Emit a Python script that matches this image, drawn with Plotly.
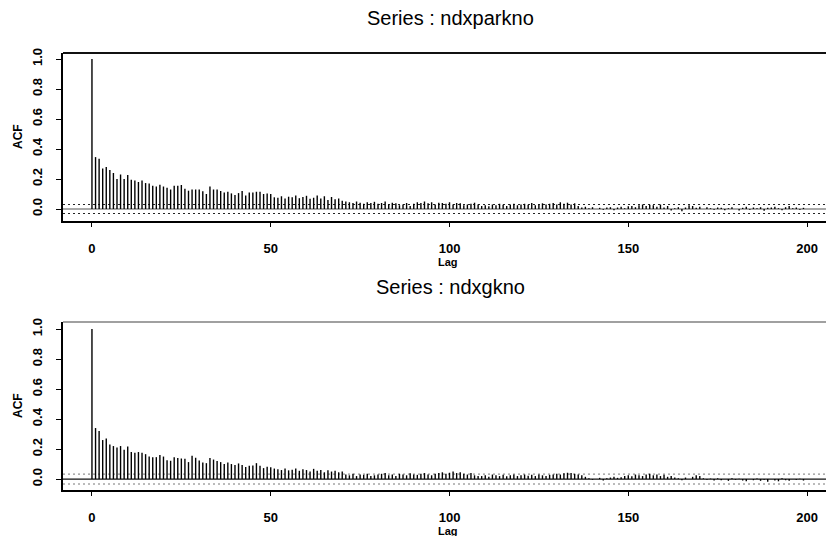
import plotly.graph_objects as go

# Sample autocorrelations, lag 0 upward
acf_ndxparkno = [
    1.0,
    0.346, 0.335, 0.27, 0.28, 0.26, 0.24, 0.20, 0.23, 0.20, 0.226,
    0.195, 0.19, 0.18, 0.19, 0.173, 0.17, 0.155, 0.15, 0.162, 0.15,
    0.142, 0.13, 0.155, 0.155, 0.16, 0.135, 0.122, 0.13, 0.13, 0.13,
    0.118, 0.10, 0.15, 0.13, 0.13, 0.12, 0.11, 0.115, 0.104, 0.093,
    0.106, 0.12, 0.09, 0.11, 0.11, 0.115, 0.115, 0.10, 0.104, 0.10,
    0.078, 0.075, 0.085, 0.07, 0.082, 0.078, 0.09, 0.072, 0.08, 0.088,
    0.068, 0.075, 0.09, 0.07, 0.085, 0.06, 0.08, 0.065, 0.07, 0.055,
    0.05, 0.045, 0.04, 0.05, 0.042, 0.035, 0.045, 0.04, 0.048, 0.035,
    0.04, 0.05, 0.03, 0.042, 0.038, 0.025, 0.03, 0.04, 0.02, 0.035,
    0.045, 0.04, 0.05, 0.038, 0.045, 0.03, 0.042, 0.04, 0.035, 0.045,
    0.03, 0.04, 0.038, 0.025, 0.03, 0.035, 0.042, 0.03, 0.02, 0.025,
    0.018, 0.03, 0.025, 0.035, 0.028, 0.02, 0.03, 0.035, 0.025, 0.03,
    0.035, 0.028, 0.04, 0.025, 0.03, 0.038, 0.03, 0.035, 0.04, 0.03,
    0.045, 0.035, 0.042, 0.03, 0.038, 0.02, 0.01, 0.015, 0.005, 0.012,
    0.0, 0.008, -0.005, 0.01, 0.012, -0.008, 0.01, 0.015, 0.005, 0.018,
    0.02, 0.012, 0.025, 0.03, 0.02, 0.028, 0.025, 0.015, 0.03, 0.01,
    0.02, -0.01, 0.005, 0.012, -0.015, 0.01, 0.025, 0.02, 0.008, 0.015,
    0.0, 0.012, 0.005, -0.005, 0.01, 0.008, -0.008, 0.005, 0.012, 0.0,
    -0.01, 0.008, 0.015, -0.005, 0.01, 0.005, 0.012, -0.012, 0.008, 0.01,
    0.015, 0.005, -0.008, 0.012, 0.02, 0.005, 0.01, -0.005, 0.008,
]

acf_ndxgkno = [
    1.0,
    0.34, 0.32, 0.26, 0.27, 0.23, 0.22, 0.21, 0.22, 0.195, 0.217,
    0.18, 0.175, 0.18, 0.175, 0.166, 0.15, 0.146, 0.146, 0.16, 0.15,
    0.126, 0.122, 0.146, 0.14, 0.137, 0.135, 0.113, 0.155, 0.142, 0.124,
    0.11, 0.106, 0.14, 0.13, 0.12, 0.113, 0.10, 0.11, 0.10, 0.093,
    0.104, 0.093, 0.08, 0.089, 0.09, 0.106, 0.089, 0.073, 0.082, 0.078,
    0.07, 0.065, 0.06, 0.07, 0.058, 0.062, 0.07, 0.055, 0.065, 0.06,
    0.05, 0.068, 0.055, 0.06, 0.045, 0.058, 0.05, 0.055, 0.045, 0.05,
    0.03, 0.025, 0.035, 0.02, 0.03, 0.028, 0.035, 0.02, 0.025, 0.03,
    0.035, 0.04, 0.025, 0.03, 0.02, 0.035, 0.03, 0.025, 0.038, 0.03,
    0.028, 0.035, 0.04, 0.03, 0.025, 0.035, 0.04, 0.045, 0.035, 0.042,
    0.05, 0.04, 0.045, 0.035, 0.03, 0.04, 0.025, 0.02, 0.02, 0.025,
    0.015, 0.03, 0.025, 0.02, 0.028, 0.018, 0.025, 0.03, 0.02, 0.025,
    0.03, 0.022, 0.028, 0.02, 0.03, 0.025, 0.02, 0.028, 0.03, 0.035,
    0.03, 0.038, 0.042, 0.04, 0.035, 0.03, 0.025, 0.015, 0.005, -0.005,
    0.0, 0.008, -0.01, 0.005, 0.01, 0.015, 0.008, 0.012, 0.02, 0.025,
    0.018, 0.03, 0.025, 0.02, 0.03, 0.035, 0.025, 0.03, 0.02, 0.028,
    0.015, 0.02, 0.01, 0.005, -0.008, 0.01, 0.0, 0.015, 0.025, 0.02,
    0.005, -0.005, 0.003, -0.01, 0.005, -0.008, 0.0, -0.012, 0.005, -0.005,
    0.002, -0.01, -0.015, 0.0, -0.008, 0.003, -0.012, -0.005, -0.018, 0.0,
    -0.01, -0.015, 0.005, -0.008, -0.012, 0.0, -0.005, 0.002, -0.01,
]

series_names = ["ndxparkno", "ndxgkno"]
conf_bounds = [0.030, 0.033]          # approx. 2/sqrt(n) bands
x_ticks = [0, 50, 100, 150, 200]
y_ticks = [0.0, 0.2, 0.4, 0.6, 0.8, 1.0]

W, H = 826, 536
ML = 63
PW = W - ML
FONT = "Liberation Sans, Arial, sans-serif"

panels = [
    dict(acf=acf_ndxparkno, top=53, bottom=221, yr=[-0.08, 1.04],
         zero_col="#8c8c8c", zero_w=1.5, frame_col="#111111", ci_col="#222222"),
    dict(acf=acf_ndxgkno, top=322, bottom=490, yr=[-0.073, 1.047],
         zero_col="#111111", zero_w=1.2, frame_col="#a0a0a0", ci_col="#777777"),
]

fig = go.Figure()
x_range = [-8.1, 205.3]


def px_x(px):
    """Horizontal pixel -> paper fraction (paper spans the plot area)."""
    return (px - ML) / PW


def px_y(py):
    return 1 - py / H


for i, (p, name, ci) in enumerate(zip(panels, series_names, conf_bounds)):
    xa = "x" if i == 0 else f"x{i+1}"
    ya = "y" if i == 0 else f"y{i+1}"
    xs, ys = [], []
    for lag, v in enumerate(p["acf"]):
        xs += [lag, lag, None]
        ys += [0, v, None]
    # confidence bands
    for b in (ci, -ci):
        fig.add_trace(go.Scatter(x=x_range, y=[b, b], mode="lines", xaxis=xa, yaxis=ya,
                                 line=dict(color=p["ci_col"], width=1, dash="2px,3px"),
                                 hoverinfo="skip", showlegend=False))
    # zero line
    fig.add_trace(go.Scatter(x=x_range, y=[0, 0], mode="lines", xaxis=xa, yaxis=ya,
                             line=dict(color=p["zero_col"], width=p["zero_w"]),
                             hoverinfo="skip", showlegend=False))
    # ACF spikes
    fig.add_trace(go.Scatter(x=xs, y=ys, mode="lines", xaxis=xa, yaxis=ya,
                             line=dict(color="#000000", width=1.4),
                             name=name, showlegend=False))

    dom = [(H - p["bottom"]) / H, (H - p["top"]) / H]
    axis_font = dict(family=FONT, size=13, color="#000", weight="bold")
    fig.layout["xaxis" if i == 0 else f"xaxis{i+1}"] = dict(
        domain=[0, 1], range=x_range, anchor=ya, tickvals=x_ticks,
        ticks="outside", ticklen=4, tickcolor="#000", showline=True, linecolor="#000",
        linewidth=1.8, showgrid=False, zeroline=False, tickfont=axis_font,
        ticklabelstandoff=10, automargin=False)
    fig.layout["yaxis" if i == 0 else f"yaxis{i+1}"] = dict(
        domain=dom, range=p["yr"], anchor=xa, tickvals=y_ticks,
        ticktext=[f"{t:.1f}" for t in y_ticks], tickangle=-90,
        ticks="outside", ticklen=5, tickcolor="#000", showline=True, linecolor="#000",
        linewidth=1.8, showgrid=False, zeroline=False, tickfont=axis_font,
        ticklabelstandoff=9, automargin=False)
    # top edge of the panel frame
    fig.add_shape(type="line", xref=f"{xa} domain", yref=f"{ya} domain",
                  x0=0, x1=1, y0=1, y1=1, line=dict(color=p["frame_col"], width=1.8))
    # titles and axis names
    fig.add_annotation(text=f"Series : {name}", xref="paper", yref="paper",
                       x=px_x(450), xanchor="center", y=px_y(p["top"] - 35),
                       yanchor="middle", showarrow=False,
                       font=dict(family=FONT, size=20, color="#000"))
    fig.add_annotation(text="<b>Lag</b>", xref="paper", yref="paper",
                       x=px_x(448), xanchor="center", y=px_y(p["bottom"] + 41),
                       yanchor="middle", showarrow=False,
                       font=dict(family=FONT, size=11, color="#000"))
    fig.add_annotation(text="<b>ACF</b>", xref="paper", yref="paper",
                       x=px_x(18), xanchor="center",
                       y=px_y((p["top"] + p["bottom"]) / 2), yanchor="middle",
                       textangle=-90, showarrow=False,
                       font=dict(family=FONT, size=12, color="#000"))

fig.update_layout(
    width=W, height=H, margin=dict(l=ML, r=0, t=0, b=0),
    paper_bgcolor="white", plot_bgcolor="white",
    font=dict(family=FONT, size=12, color="#000"),
)

fig.write_html("out.html")
